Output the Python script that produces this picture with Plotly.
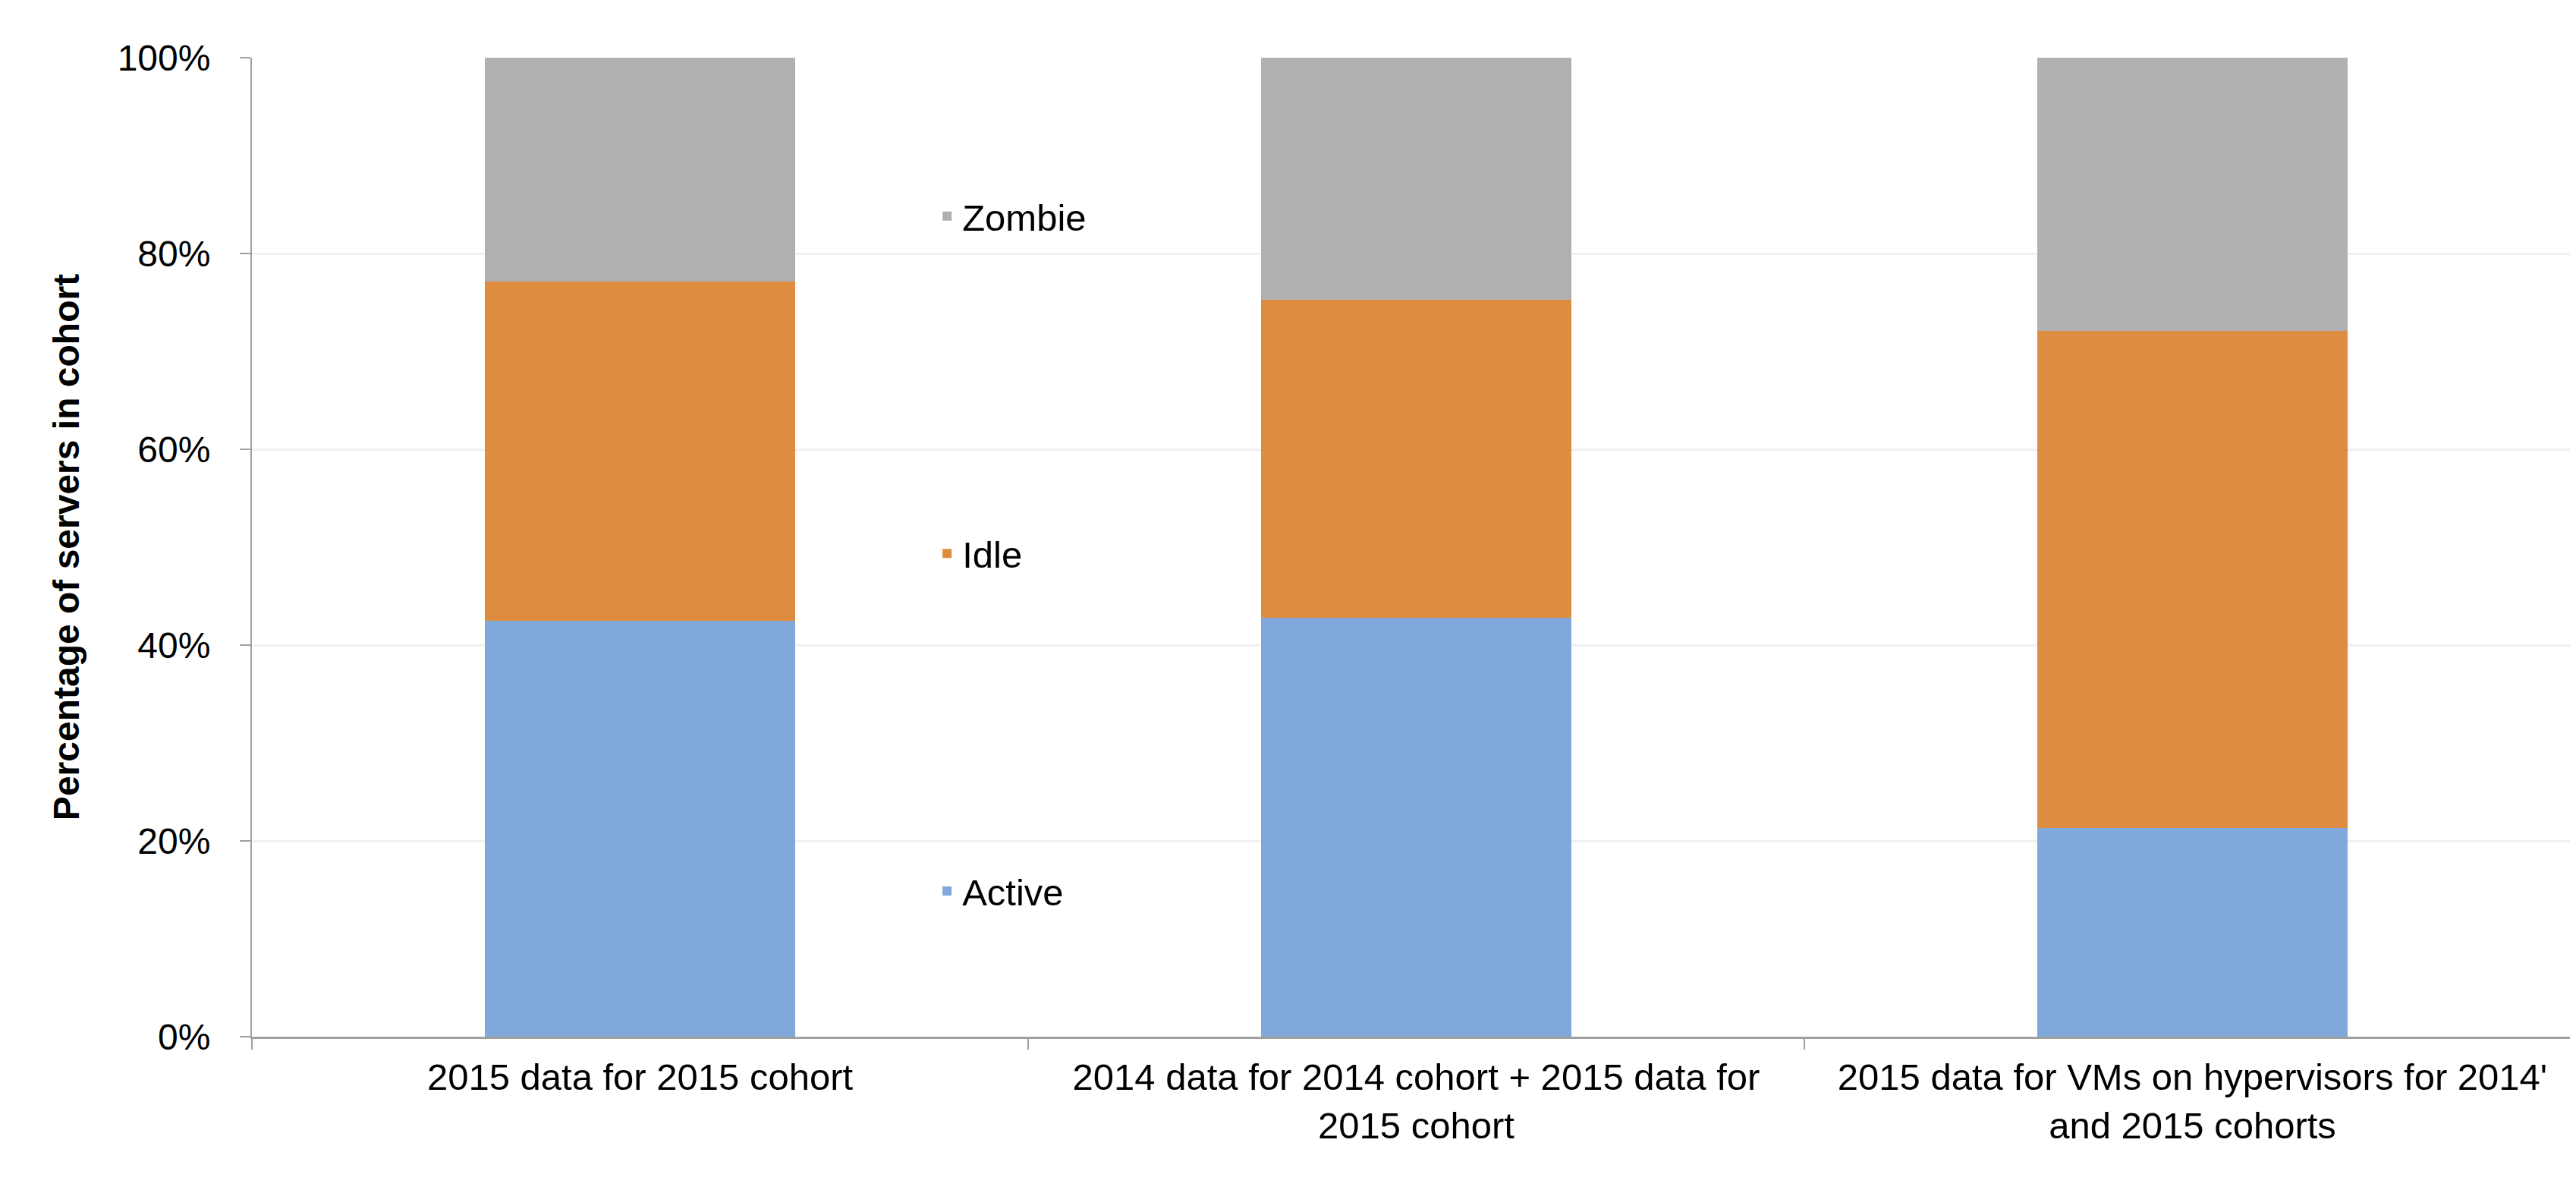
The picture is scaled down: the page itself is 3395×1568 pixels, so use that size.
import plotly.graph_objects as go

categories = [
    "2015 data for 2015 cohort",
    "2014 data for 2014 cohort + 2015 data for<br>2015 cohort",
    "2015 data for VMs on hypervisors for 2014'<br>and 2015 cohorts",
]
active = [42.5, 42.8, 21.3]
idle = [34.6, 32.5, 50.8]
zombie = [22.9, 24.7, 27.9]

series_names = ["Active", "Idle", "Zombie"]
series_colors = ["#80a8da", "#de8d40", "#b0b0b0"]
legend_ranks = [3, 2, 1]
tick_vals = [0, 20, 40, 60, 80, 100]
tick_text = ["0%", "20%", "40%", "60%", "80%", "100%"]

FONT = "Liberation Sans, Arial, sans-serif"

fig = go.Figure()
for name, vals, col, rank in zip(series_names, [active, idle, zombie], series_colors, legend_ranks):
    fig.add_trace(go.Bar(
        x=categories, y=vals, name=name, legendgroup=name, legendrank=rank,
        marker=dict(color=col, line=dict(width=0)),
        width=0.4,
    ))

fig.update_layout(
    barmode="stack",
    width=3395, height=1568,
    paper_bgcolor="white", plot_bgcolor="white",
    margin=dict(l=324, r=2, t=68, b=210),
    font=dict(family=FONT, size=48, color="black"),
    legend=dict(
        x=0.292, y=0.868, xanchor="left", yanchor="top",
        traceorder="grouped",
        tracegroupgap=378,
        font=dict(size=49, family=FONT),
        bgcolor="rgba(0,0,0,0)",
    ),
    xaxis=dict(
        range=[-0.5, 2.5],
        showline=True, linecolor="#a0a0a0", linewidth=3,
        ticks="outside", tickson="boundaries", ticklen=14, tickcolor="#a0a0a0", tickwidth=2,
        ticklabelstandoff=8, tickangle=0, automargin=False,
        showgrid=False,
        tickfont=dict(size=49, family=FONT),
    ),
    yaxis=dict(
        range=[0, 100],
        tickvals=tick_vals, ticktext=tick_text,
        showline=True, linecolor="#a0a0a0", linewidth=2,
        ticks="outside", ticklen=14, tickcolor="#a0a0a0", tickwidth=2,
        ticklabelstandoff=29,
        showgrid=True, gridcolor="#f0f0f0", gridwidth=3,
        zeroline=False,
        tickfont=dict(size=48, family=FONT),
        title=dict(text="<b>Percentage of servers in cohort</b>", standoff=35,
                   font=dict(size=48, family=FONT)),
    ),
)

fig.write_html("out.html")
